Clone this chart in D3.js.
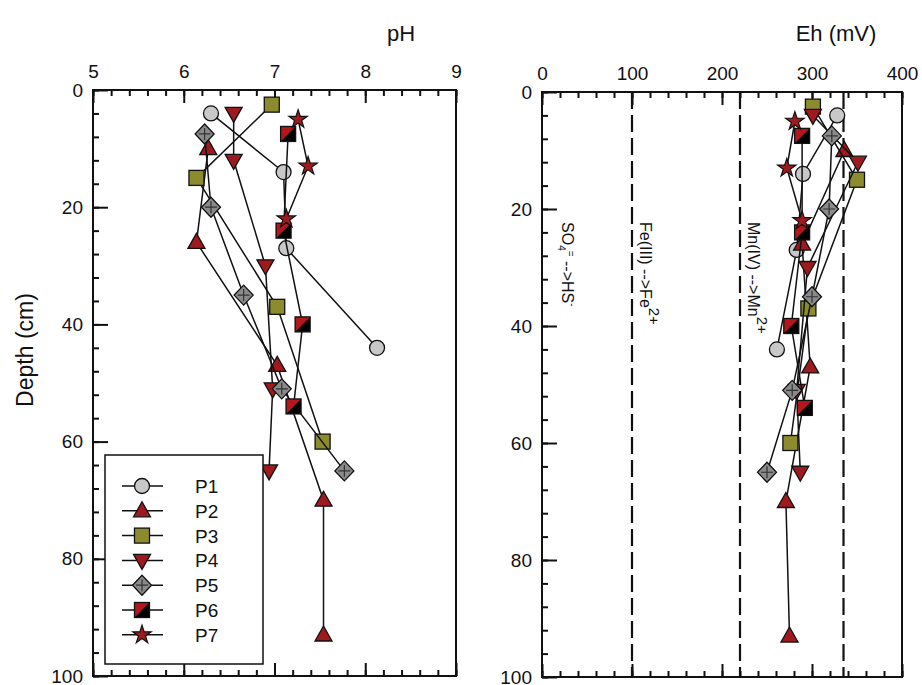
<!DOCTYPE html>
<html>
<head>
<meta charset="utf-8">
<script src="https://cdn.jsdelivr.net/npm/d3@7"></script>
<style>
body { margin: 0; background: #fff; }
text { font-family: "Liberation Sans", Arial, sans-serif; fill: #111; }
</style>
</head>
<body>
<div id="vis"></div>
<script>
const WIDTH = 922;
const HEIGHT = 685;

// profiles (depth in cm)
const seriesNames = ["P1", "P2", "P3", "P4", "P5", "P6", "P7"];

const P1_depth = [4, 14, 27, 44];
const P1_pH = [6.30, 7.10, 7.13, 8.13];
const P1_Eh = [328, 290, 283, 261];

const P2_depth = [10, 26, 47, 70, 93];
const P2_pH = [6.27, 6.14, 7.03, 7.54, 7.54];
const P2_Eh = [336, 289, 298, 271, 275];

const P3_depth = [2.5, 15, 37, 60];
const P3_pH = [6.97, 6.14, 7.03, 7.53];
const P3_Eh = [301, 350, 296, 276];

const P4_depth = [4, 12, 30, 51, 65];
const P4_pH = [6.55, 6.55, 6.90, 6.98, 6.94];
const P4_Eh = [301, 351, 295, 283, 287];

const P5_depth = [7.5, 20, 35, 51, 65];
const P5_pH = [6.23, 6.30, 6.66, 7.08, 7.77];
const P5_Eh = [322, 319, 300, 278, 250];

const P6_depth = [7.5, 24, 40, 54];
const P6_pH = [7.15, 7.10, 7.31, 7.21];
const P6_Eh = [289, 289, 277, 292];

const P7_depth = [5, 13, 22];
const P7_pH = [7.26, 7.37, 7.13];
const P7_Eh = [281, 272, 289];

const phTicks = [5, 6, 7, 8, 9];
const ehTicks = [0, 100, 200, 300, 400];
const depthTicks = [0, 20, 40, 60, 80, 100];

// redox boundaries (mV)
const redoxLines = [100, 220, 335];

const depths = [P1_depth, P2_depth, P3_depth, P4_depth, P5_depth, P6_depth, P7_depth];
const phs = [P1_pH, P2_pH, P3_pH, P4_pH, P5_pH, P6_pH, P7_pH];
const ehs = [P1_Eh, P2_Eh, P3_Eh, P4_Eh, P5_Eh, P6_Eh, P7_Eh];

const RED = "#9e1a1f";

const svg = d3.select("#vis").append("svg")
	.attr("width", WIDTH)
	.attr("height", HEIGHT);

const xPH = d3.scaleLinear().domain([5, 9]).range([93, 456]);
const yL = d3.scaleLinear().domain([0, 100]).range([90, 676]);
const xEh = d3.scaleLinear().domain([0, 400]).range([542, 902]);
const yR = d3.scaleLinear().domain([0, 100]).range([92, 677]);

// draw the box, inward ticks and labels of one panel
function frame(x, y, xTicks, xMinor) {
	const g = svg.append("g");
	const [x0, x1] = x.range();
	const [y0, y1] = y.range();
	const yMinor = d3.range(0, 100.01, 4);

	g.append("g").attr("transform", `translate(0,${y0})`)
		.call(d3.axisTop(x).tickValues(xMinor).tickSize(-6).tickFormat(""));
	g.append("g").attr("transform", `translate(0,${y0})`)
		.call(d3.axisTop(x).tickValues(xTicks).tickSize(-13).tickPadding(12).tickFormat(d3.format("d")));
	g.append("g").attr("transform", `translate(0,${y1})`)
		.call(d3.axisBottom(x).tickValues(xMinor).tickSize(-6).tickFormat(""));
	g.append("g").attr("transform", `translate(0,${y1})`)
		.call(d3.axisBottom(x).tickValues(xTicks).tickSize(-13).tickFormat(""));
	g.append("g").attr("transform", `translate(${x0},0)`)
		.call(d3.axisLeft(y).tickValues(yMinor).tickSize(-6).tickFormat(""));
	g.append("g").attr("transform", `translate(${x0},0)`)
		.call(d3.axisLeft(y).tickValues(depthTicks).tickSize(-15).tickPadding(10).tickFormat(d3.format("d")));

	g.selectAll(".domain").remove();
	g.selectAll("g").attr("font-family", null).attr("font-size", null);
	g.selectAll(".tick line").attr("stroke", "#111").attr("stroke-width", 2);
	g.selectAll(".tick text").style("font-size", "19px").attr("fill", "#111");

	g.append("rect")
		.attr("x", x0).attr("y", y0)
		.attr("width", x1 - x0).attr("height", y1 - y0)
		.attr("fill", "none").attr("stroke", "#111").attr("stroke-width", 2);
	return g;
}

// marker for series i, appended to selection sel
function marker(sel, i) {
	const s = "#111";
	if (i === 0) {
		sel.append("circle").attr("r", 7.5).attr("fill", "#c8c8c8").attr("stroke", s).attr("stroke-width", 1.3);
	} else if (i === 1) {
		sel.append("path").attr("d", "M0,-9L8.5,6L-8.5,6Z").attr("fill", RED).attr("stroke", s).attr("stroke-width", 1.3);
	} else if (i === 2) {
		sel.append("rect").attr("x", -7.5).attr("y", -7.5).attr("width", 15).attr("height", 15)
			.attr("fill", "#8c8c2e").attr("stroke", s).attr("stroke-width", 1.3);
	} else if (i === 3) {
		sel.append("path").attr("d", "M0,9L8.5,-6L-8.5,-6Z").attr("fill", RED).attr("stroke", s).attr("stroke-width", 1.3);
	} else if (i === 4) {
		sel.append("path").attr("d", "M0,-10L9.5,0L0,10L-9.5,0Z").attr("fill", "#8a8a8a").attr("stroke", s).attr("stroke-width", 1.3);
		sel.append("path").attr("d", "M0,-6V6M-6,0H6").attr("stroke", "#333").attr("stroke-width", 1.2);
	} else if (i === 5) {
		sel.append("rect").attr("x", -7.5).attr("y", -7.5).attr("width", 15).attr("height", 15).attr("fill", "#000");
		sel.append("path").attr("d", "M-7.5,-7.5L7.5,-7.5L-7.5,7.5Z").attr("fill", "#b3161c");
		sel.append("rect").attr("x", -7.5).attr("y", -7.5).attr("width", 15).attr("height", 15)
			.attr("fill", "none").attr("stroke", s).attr("stroke-width", 1.3);
	} else {
		sel.append("path").attr("d", d3.symbol(d3.symbolStar, 105)()).attr("fill", RED).attr("stroke", s).attr("stroke-width", 1.2);
	}
}

function drawSeries(x, y, values) {
	const g = svg.append("g");
	seriesNames.forEach((name, i) => {
		const pts = depths[i].map((d, k) => ({ depth: d, v: values[i][k] }));
		g.append("path")
			.datum(pts)
			.attr("fill", "none")
			.attr("stroke", "#111")
			.attr("stroke-width", 1.5)
			.attr("d", d3.line().x(d => x(d.v)).y(d => y(d.depth)));
		g.selectAll(".m" + i)
			.data(pts)
			.enter()
			.append("g")
			.attr("transform", d => `translate(${x(d.v)},${y(d.depth)})`)
			.each(function () { marker(d3.select(this), i); });
	});
}

// left panel: pH
frame(xPH, yL, phTicks, d3.range(5, 9.001, 0.2));
drawSeries(xPH, yL, phs);

// right panel: Eh with redox boundaries
const right = frame(xEh, yR, ehTicks, d3.range(0, 400.01, 20));
right.selectAll(".redox")
	.data(redoxLines)
	.enter()
	.append("line")
	.attr("x1", d => xEh(d)).attr("x2", d => xEh(d))
	.attr("y1", yR(0)).attr("y2", yR(100))
	.attr("stroke", "#111").attr("stroke-width", 2.2)
	.attr("stroke-dasharray", "17,6");

function redoxLabel(x, parts) {
	const t = svg.append("text")
		.attr("transform", `translate(${x},222) rotate(90)`)
		.style("font-size", "16px");
	parts.forEach(p => {
		t.append("tspan").attr("dy", p.dy || 0).style("font-size", (p.size || 16) + "px").text(p.t);
	});
}
redoxLabel(xEh(0) + 20, [
	{ t: "SO" }, { t: "4", dy: 4, size: 10 }, { t: "=", dy: -9, size: 10 },
	{ t: " -->HS", dy: 5 }, { t: "-", dy: -7, size: 10 }
]);
redoxLabel(xEh(redoxLines[0]) + 8, [{ t: "Fe(III) -->Fe" }, { t: "2+", dy: -9, size: 15 }]);
redoxLabel(xEh(redoxLines[1]) + 8, [{ t: "Mn(IV) -->Mn" }, { t: "2+", dy: -9, size: 15 }]);

drawSeries(xEh, yR, ehs);

// titles
svg.append("text").attr("x", 401).attr("y", 41).attr("text-anchor", "middle").style("font-size", "22px").text("pH");
svg.append("text").attr("x", 836).attr("y", 41).attr("text-anchor", "middle").style("font-size", "22px").text("Eh (mV)");
svg.append("text")
	.attr("transform", "translate(33,350) rotate(-90)")
	.attr("text-anchor", "middle")
	.style("font-size", "23px")
	.text("Depth (cm)");

// legend
const legend = svg.append("g");
legend.append("rect")
	.attr("x", 105).attr("y", 455).attr("width", 158).attr("height", 209)
	.attr("fill", "#fff").attr("stroke", "#111").attr("stroke-width", 1.5);
seriesNames.forEach((name, i) => {
	const ly = 486 + i * 24.8;
	legend.append("line").attr("x1", 122).attr("x2", 163).attr("y1", ly).attr("y2", ly)
		.attr("stroke", "#111").attr("stroke-width", 1.5);
	marker(legend.append("g").attr("transform", `translate(142,${ly})`), i);
	legend.append("text").attr("x", 195).attr("y", ly + 7).style("font-size", "19px").text(name);
});
</script>
</body>
</html>
